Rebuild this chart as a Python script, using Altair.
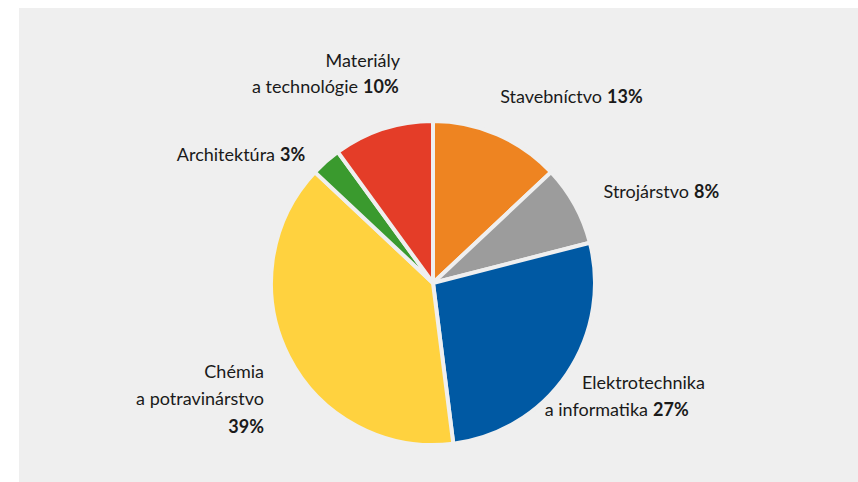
import altair as alt
import pandas as pd

categories = ["Stavebníctvo", "Strojárstvo", "Elektrotechnika a informatika",
              "Chémia a potravinárstvo", "Architektúra", "Materiály a technológie"]
values = [13, 8, 27, 39, 3, 10]
colors = ["#EE8421", "#9C9C9C", "#0059A3", "#FFD23F", "#3A9A2E", "#E43D28"]

# label text lines (normal part) and bold percentage
name_lines = [["Stavebníctvo"], ["Strojárstvo"], ["Elektrotechnika", "a informatika"],
              ["Chémia", "a potravinárstvo"], ["Architektúra"], ["Materiály", "a technológie"]]
pct_labels = ["13%", "8%", "27%", "39%", "3%", "10%"]

BG = "#efefef"
FONT = "Lato"
FS = 18
GAP = 5

df = pd.DataFrame({"cat": categories, "val": values, "idx": list(range(len(values)))})

W, H = 858, 482
CX, CY, R = 433, 283, 162

bg = alt.Chart(pd.DataFrame({"a": [0]})).mark_rect(color=BG).encode(
    x=alt.value(19), x2=alt.value(W), y=alt.value(8), y2=alt.value(H))

pie = alt.Chart(df).mark_arc(outerRadius=R, stroke=BG, strokeWidth=4).encode(
    theta=alt.Theta("val:Q", stack=True),
    order=alt.Order("idx:Q"),
    color=alt.Color("cat:N", scale=alt.Scale(domain=categories, range=colors), legend=None),
    x=alt.value(CX), y=alt.value(CY),
)

one = pd.DataFrame({"a": [0]})

def txt(s, x, y, align, bold=False):
    return alt.Chart(one).mark_text(
        text=s, align=align, baseline="middle", font=FONT, fontSize=FS,
        fontWeight="bold" if bold else "normal", color="#1a1a1a"
    ).encode(x=alt.value(x), y=alt.value(y))

def pair(name, pct, xb, y):
    return [txt(name, xb - GAP, y, "right"), txt(pct, xb, y, "left", True)]

layers = []
layers += pair(name_lines[0][0], pct_labels[0], 607, 98)
layers += pair(name_lines[1][0], pct_labels[1], 694, 193)
layers += [txt(name_lines[2][0], 582, 384, "left")]
layers += pair(name_lines[2][1], pct_labels[2], 653, 411)
layers += [txt(name_lines[3][0], 264, 373, "right"),
           txt(name_lines[3][1], 264, 400, "right"),
           txt(pct_labels[3], 264, 428, "right", True)]
layers += pair(name_lines[4][0], pct_labels[4], 280, 156)
layers += [txt(name_lines[5][0], 400, 62, "right")]
layers += pair(name_lines[5][1], pct_labels[5], 363, 88)

chart = alt.layer(bg, pie, *layers).properties(
    width=W, height=H, padding=0, autosize=alt.AutoSizeParams(type="none"),
    background="#ffffff"
).configure_view(stroke=None)

chart.save("out.html", embed_options={"renderer": "svg", "actions": False})
